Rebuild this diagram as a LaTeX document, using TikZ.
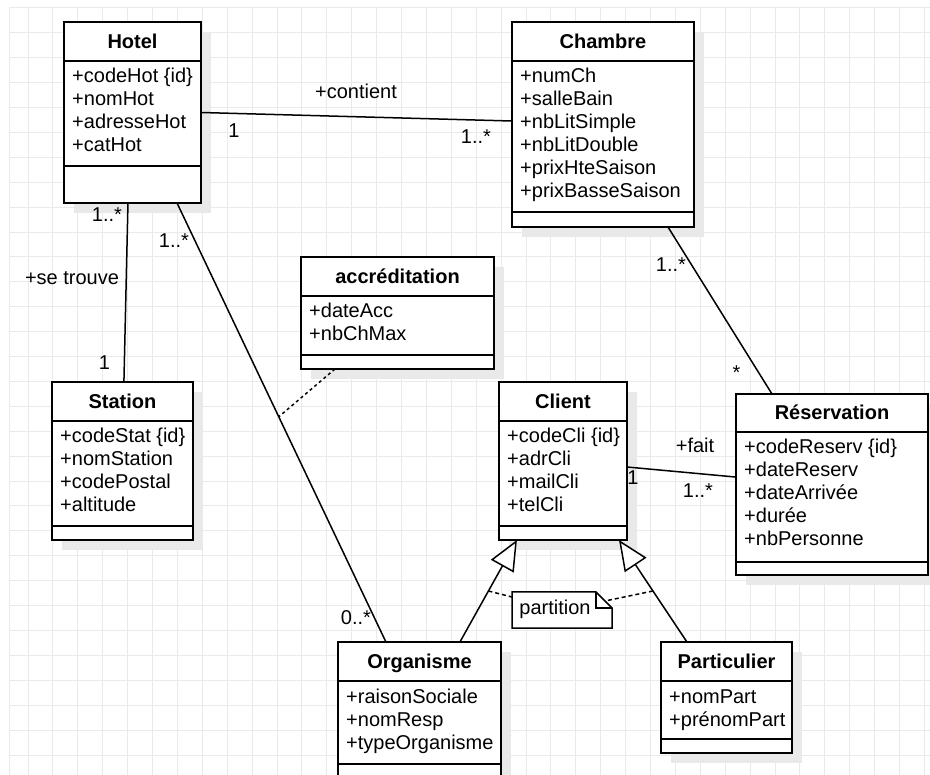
\documentclass[tikz,border=0pt]{standalone}
\usepackage{fontspec}
\setmainfont{Liberation Sans}
\usetikzlibrary{arrows.meta,calc,shadows}

\definecolor{gridline}{RGB}{234,234,234}
\definecolor{shade}{RGB}{233,233,233}
\definecolor{ink}{RGB}{0,0,0}

\tikzset{
  classbox/.style={draw=ink, line width=1.8pt, fill=white, rectangle, inner sep=0pt, outer sep=0pt,
    general shadow={fill=shade, shadow xshift=10pt, shadow yshift=-10pt}},
  divider/.style={draw=ink, line width=1.8pt},
  classtitle/.style={font=\bfseries\fontsize{20}{23}\selectfont, anchor=base, inner sep=0pt},
  attr/.style={font=\fontsize{20}{23}\selectfont, anchor=base west, inner sep=0pt},
  mult/.style={font=\fontsize{20}{23}\selectfont, anchor=base, inner sep=0pt},
  assoc/.style={draw=ink, line width=1.5pt},
  assocclass/.style={draw=ink, line width=1.5pt, dash pattern=on 3pt off 3pt},
  inherit/.style={draw=ink, line width=1.5pt, -{Triangle[length=30pt,width=26pt,fill=white]}},
  constraint/.style={draw=ink, line width=1.5pt, dash pattern=on 4pt off 3pt},
  notebox/.style={rectangle, minimum width=100pt, minimum height=36pt, inner sep=0pt, outer sep=0pt},
  noteline/.style={draw=ink, line width=1.5pt, line join=miter},
  gridstroke/.style={draw=gridline, line width=1pt},
}

% UML class: name, left, top, right, bottom, title divider, attribute divider, title, attributes
\newcommand{\umlclass}[9]{%
  \node[classbox, minimum width={(#4)-(#2)}, minimum height={(#5)-(#3)}] (#1)
    at ({((#2)+(#4))/2},{((#3)+(#5))/2}) {};
  \draw[divider] (#2,#6) -- (#4,#6);
  \draw[divider] (#2,#7) -- (#4,#7);
  \node[classtitle] (#1-title) at ({((#2)+(#4))/2},{((#3)+(#6))/2+7}) {#8};
  \foreach \attrtxt [count=\attrno] in {#9} {
    \node[attr] (#1-a\attrno) at ({(#2)+8},{(#6)+22+23*(\attrno-1)}) {\attrtxt};
  }
}

\begin{document}
\begin{tikzpicture}[x=1pt, y=-1pt]
\useasboundingbox (0,0) rectangle (930,775);
\clip (0,0) rectangle (930,775);
\fill[white] (0,0) rectangle (930,775);

% background grid
\foreach \gx in {0,...,36} \draw[gridstroke] ({28+24.9*\gx},8) -- ({28+24.9*\gx},775);
\foreach \gy in {0,...,31} \draw[gridstroke] (9,{8+24.9*\gy}) -- (930,{8+24.9*\gy});
\draw[gridstroke] (9,8) -- (9,775);

% classes
\umlclass{hotel}{64}{22}{201}{203}{61}{166}{Hotel}{+codeHot \{id\},+nomHot,+adresseHot,+catHot}
\umlclass{chambre}{512}{22}{694}{227}{61}{212}{Chambre}{+numCh,+salleBain,+nbLitSimple,+nbLitDouble,+prixHteSaison,+prixBasseSaison}
\umlclass{accred}{301}{257}{494}{369}{296}{355}{accréditation}{+dateAcc,+nbChMax}
\umlclass{station}{52}{382}{193}{540}{421}{526}{Station}{+codeStat \{id\},+nomStation,+codePostal,+altitude}
\umlclass{client}{499}{382}{627}{540}{421}{526}{Client}{+codeCli \{id\},+adrCli,+mailCli,+telCli}
\umlclass{reservation}{736}{394}{928}{575}{432}{562}{Réservation}{+codeReserv \{id\},+dateReserv,+dateArrivée,+durée,+nbPersonne}
\umlclass{organisme}{338}{642}{501}{779}{681}{764}{Organisme}{+raisonSociale,+nomResp,+typeOrganisme}
\umlclass{particulier}{661}{642}{792}{753}{681}{739}{Particulier}{+nomPart,+prénomPart}

% associations
\draw[assoc] (hotel.east) -- ($(chambre.north west)!0.483!(chambre.south west)$);
\draw[assoc] ($(hotel.south west)!0.467!(hotel.south east)$) -- ($(station.north west)!0.51!(station.north east)$);
\draw[assoc] ($(hotel.south west)!0.825!(hotel.south east)$) -- coordinate[pos=0.487] (accmid) ($(organisme.north west)!0.294!(organisme.north east)$);
\draw[assocclass] ($(accred.south west)!0.176!(accred.south east)$) -- (accmid);
\draw[assoc] ($(chambre.south west)!0.857!(chambre.south east)$) -- ($(reservation.north west)!0.1875!(reservation.north east)$);
\draw[assoc] ($(client.north east)!0.538!(client.south east)$) -- ($(reservation.north west)!0.459!(reservation.south west)$);

% generalisations
\draw[inherit] ($(organisme.north west)!0.748!(organisme.north east)$) -- coordinate[pos=0.5] (genleft) ($(client.south west)!0.14!(client.south east)$);
\draw[inherit] ($(particulier.north west)!0.198!(particulier.north east)$) -- coordinate[pos=0.5] (genright) ($(client.south west)!0.9375!(client.south east)$);

% partition note
\node[notebox] (note) at (562,610) {};
\filldraw[noteline, fill=white] (note.north west) -- ([xshift=-16pt]note.north east) -- ([yshift=-16pt]note.north east)
  -- (note.south east) -- (note.south west) -- cycle;
\draw[noteline] ([xshift=-16pt]note.north east) -- ([xshift=-16pt,yshift=-16pt]note.north east) -- ([yshift=-16pt]note.north east);
\node[mult] (note-text) at (555,615) {partition};
\draw[constraint] (genleft) -- ([yshift=-5pt]note.north west);
\draw[constraint] (genright) -- ([xshift=-7pt,yshift=-9pt]note.north east);

% role names and multiplicities
\node[mult] (m-contient) at (356,99) {+contient};
\node[mult] (m-hc1) at (234,138) {1};
\node[mult] (m-hc2) at (476,144) {1..*};
\node[mult] (m-hs1) at (107,222) {1..*};
\node[mult] (m-setrouve) at (72,285) {+se trouve};
\node[mult] (m-hs2) at (104.5,370) {1};
\node[mult] (m-ho1) at (174,248) {1..*};
\node[mult] (m-ho2) at (356,624) {0..*};
\node[mult] (m-cr1) at (671,272) {1..*};
\node[mult] (m-cr2) at (736.5,380) {*};
\node[mult] (m-fait) at (695,453) {+fait};
\node[mult] (m-cl1) at (633,485) {1};
\node[mult] (m-cl2) at (698,498) {1..*};
\end{tikzpicture}
\end{document}
